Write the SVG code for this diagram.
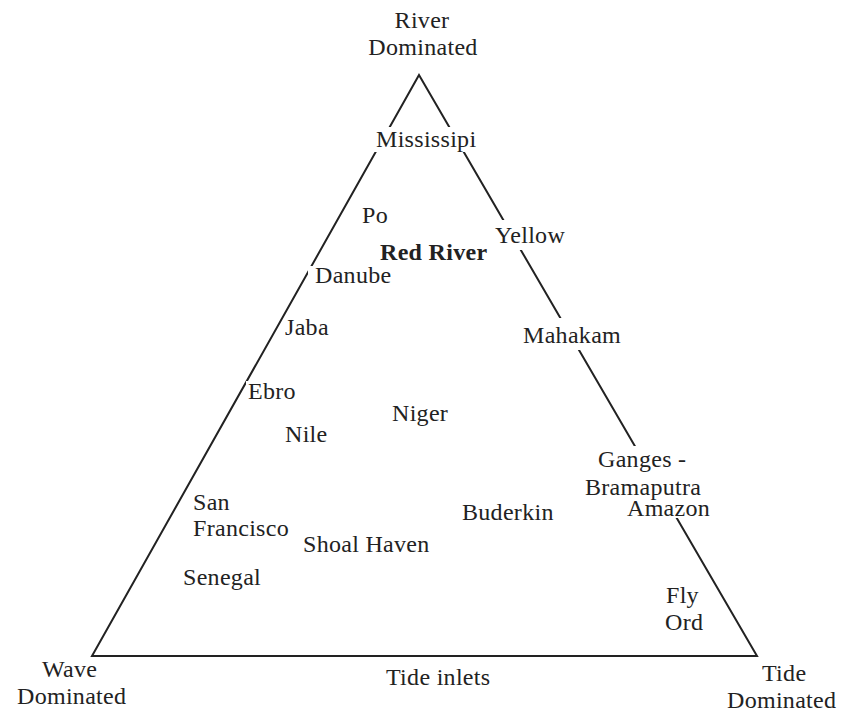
<svg xmlns="http://www.w3.org/2000/svg" width="841" height="713" viewBox="0 0 841 713">
<style>
text{font-family:"Liberation Serif","Times New Roman",serif;font-size:24px;fill:#222;letter-spacing:0.3px}
.b{font-weight:bold}
.mask{fill:#fff}
.edge{fill:none;stroke:#222;stroke-width:2}
</style>
<rect width="841" height="713" fill="#fff"/>
<g id="connectors">
<polygon class="edge" points="419,75 92,656 757,656"/>
</g>
<g id="masks">
<rect class="mask" x="373" y="127" width="106" height="25"/>
<rect class="mask" x="492" y="220" width="50" height="30"/>
<rect class="mask" x="520" y="318" width="106" height="32"/>
<rect class="mask" x="583" y="446" width="120" height="72"/>
<rect class="mask" x="308" y="266" width="90" height="24"/>
<rect class="mask" x="246" y="381" width="52" height="22"/>
</g>
<g id="river-dominated"><text x="422" y="28" text-anchor="middle">River</text><text x="423" y="55" text-anchor="middle">Dominated</text></g>
<g id="wave-dominated"><text x="42" y="677">Wave</text><text x="17" y="704">Dominated</text></g>
<g id="tide-dominated"><text x="762" y="681">Tide</text><text x="727" y="708">Dominated</text></g>
<g id="mississipi"><text x="376" y="147">Mississipi</text></g>
<g id="po"><text x="362" y="223">Po</text></g>
<g id="red-river"><text class="b" x="380" y="260">Red River</text></g>
<g id="yellow"><text x="495" y="243">Yellow</text></g>
<g id="danube"><text x="315" y="283">Danube</text></g>
<g id="jaba"><text x="285" y="335">Jaba</text></g>
<g id="mahakam"><text x="523" y="343">Mahakam</text></g>
<g id="ebro"><text x="248" y="399">Ebro</text></g>
<g id="niger"><text x="392" y="421">Niger</text></g>
<g id="nile"><text x="285" y="442">Nile</text></g>
<g id="ganges"><text x="598" y="467">Ganges -</text><text x="585" y="495">Bramaputra</text></g>
<g id="amazon"><text x="627" y="516">Amazon</text></g>
<g id="san-francisco"><text x="193" y="510">San</text><text x="193" y="536">Francisco</text></g>
<g id="buderkin"><text x="462" y="520">Buderkin</text></g>
<g id="shoal-haven"><text x="303" y="552">Shoal Haven</text></g>
<g id="senegal"><text x="183" y="585">Senegal</text></g>
<g id="fly"><text x="666" y="603">Fly</text></g>
<g id="ord"><text x="665" y="630">Ord</text></g>
<g id="tide-inlets"><text x="386" y="685">Tide inlets</text></g>
</svg>
